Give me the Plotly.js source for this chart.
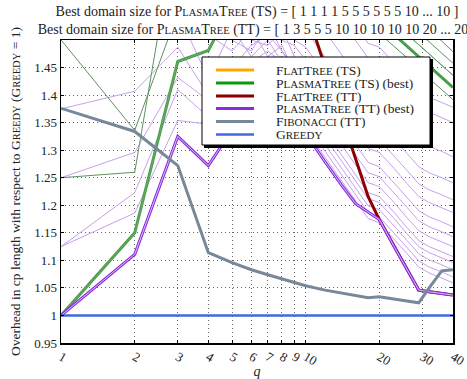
<!DOCTYPE html>
<html>
<head>
<meta charset="utf-8">
<script src="https://cdn.plot.ly/plotly-3.0.1.min.js"></script>
<style>html,body{margin:0;padding:0;background:#fff;}#chart{width:467px;height:379px;}</style>
</head>
<body>
<div id="chart"></div>
<script>
// q values (x axis, log scale)
const Q = [1,2,3,4,5,6,7,8,9,10,12,14,16,18,20,23,26,29,32,36,40];
const xTicks = [1,2,3,4,5,6,7,8,9,10,20,30,40];
const yTicks = [0.95,1,1.05,1.1,1.15,1.2,1.25,1.3,1.35,1.4,1.45];
const yTickText = ['0.95','1','1.05','1.1','1.15','1.2','1.25','1.3','1.35','1.4','1.45'];

// main series
const flatTS   = [2.0,1.95,1.9,1.87,1.85,1.83,1.81,1.80,1.79,1.78,1.76,1.74,1.72,1.70,1.69,1.67,1.65,1.63,1.61,1.59,1.57];
const plasmaTSbest = [1.0,1.15,1.461,1.481,1.563,1.60,1.62,1.63,1.64,1.64,1.63,1.60,1.574,1.552,1.534,1.510,1.489,1.470,1.452,1.432,1.414];
const flatTT   = [2.0,1.9,1.82,1.76,1.71,1.67,1.63,1.60,1.58,1.558,1.452,1.363,1.287,1.216,1.174,1.125,1.083,1.046,1.043,1.040,1.037];
const plasmaTTbest = [1.0,1.111,1.325,1.272,1.337,1.38,1.40,1.40,1.38,1.33,1.279,1.237,1.203,1.187,1.174,1.125,1.083,1.046,1.043,1.040,1.037];
const fibTT    = [1.376,1.334,1.272,1.114,1.096,1.083,1.074,1.066,1.059,1.054,1.046,1.041,1.037,1.032,1.034,1.030,1.026,1.023,1.050,1.081,1.083];
const greedy   = [1,1,1,1,1,1,1,1,1,1,1,1,1,1,1,1,1,1,1,1,1];

// PlasmaTree (TT) for other domain sizes (thin)
const ttP1  = [1.125,1.186,1.354,1.347,1.36,1.38,1.40,1.39,1.37,1.336,1.287,1.245,1.208,1.176,1.168,1.139,1.112,1.088,1.077,1.068,1.059];
const ttP2  = [1.125,1.223,1.41,1.36,1.40,1.43,1.45,1.44,1.40,1.347,1.298,1.256,1.219,1.187,1.179,1.150,1.123,1.099,1.088,1.079,1.070];
const ttP3  = [1.25,1.296,1.432,1.39,1.44,1.46,1.48,1.46,1.42,1.359,1.310,1.268,1.232,1.199,1.192,1.163,1.136,1.112,1.101,1.092,1.083];
const ttP4  = [1.375,1.407,1.487,1.40,1.45,1.49,1.51,1.48,1.44,1.372,1.323,1.281,1.245,1.212,1.205,1.176,1.148,1.125,1.114,1.105,1.096];
const ttP5  = [1.625,1.64,1.55,1.43,1.52,1.47,1.50,1.46,1.42,1.383,1.334,1.292,1.256,1.223,1.216,1.187,1.159,1.136,1.125,1.116,1.107];
const ttP6  = [1.75,1.70,1.60,1.51,1.48,1.52,1.47,1.49,1.44,1.401,1.352,1.310,1.274,1.241,1.234,1.205,1.177,1.154,1.143,1.134,1.125];
const ttP7  = [1.875,1.78,1.65,1.54,1.50,1.48,1.53,1.48,1.45,1.419,1.370,1.328,1.292,1.259,1.252,1.223,1.196,1.172,1.161,1.152,1.143];
const ttP8  = [2.0,1.85,1.70,1.57,1.53,1.50,1.49,1.52,1.47,1.438,1.388,1.347,1.310,1.278,1.270,1.241,1.214,1.190,1.179,1.170,1.161];
const ttP9  = [2.125,1.92,1.75,1.60,1.55,1.53,1.51,1.50,1.49,1.463,1.414,1.372,1.336,1.303,1.296,1.267,1.239,1.216,1.205,1.196,1.187];
const ttP10 = [2.25,2.0,1.80,1.63,1.58,1.55,1.53,1.51,1.50,1.487,1.438,1.396,1.359,1.327,1.319,1.290,1.263,1.239,1.228,1.219,1.210];
const ttP11 = [2.375,2.1,1.85,1.66,1.61,1.58,1.56,1.54,1.53,1.518,1.469,1.427,1.390,1.358,1.350,1.321,1.294,1.270,1.259,1.250,1.241];
const ttP12 = [2.5,2.2,1.9,1.70,1.64,1.61,1.59,1.58,1.57,1.565,1.516,1.474,1.438,1.405,1.398,1.369,1.341,1.318,1.307,1.298,1.288];
const ttP13 = [2.625,2.3,1.95,1.74,1.68,1.65,1.63,1.62,1.62,1.627,1.578,1.536,1.500,1.467,1.459,1.430,1.403,1.379,1.369,1.359,1.350];
const ttP14 = [2.75,2.4,2.0,1.78,1.72,1.69,1.67,1.66,1.66,1.654,1.605,1.563,1.527,1.494,1.487,1.458,1.430,1.407,1.396,1.387,1.378];

// PlasmaTree (TS) for other domain sizes (thin)
const tsA = [1.5,1.336,1.55,1.62,1.66,1.68,1.70,1.71,1.72,1.72,1.70,1.67,1.640,1.618,1.600,1.576,1.554,1.536,1.518,1.498,1.479];
const tsB = [1.25,1.26,1.72,1.75,1.77,1.78,1.79,1.79,1.78,1.76,1.72,1.66,1.618,1.596,1.578,1.554,1.532,1.514,1.496,1.476,1.458];
const tsC = [1.0,1.15,1.461,1.481,1.56,1.62,1.66,1.69,1.71,1.72,1.70,1.65,1.596,1.574,1.556,1.532,1.510,1.492,1.474,1.454,1.436];
const tsD = [1.75,1.70,1.80,1.82,1.83,1.84,1.84,1.83,1.82,1.80,1.75,1.68,1.552,1.530,1.512,1.489,1.467,1.449,1.430,1.410,1.392];

const FONT = "Liberation Serif";
function sc(w, s) { return w[0] + '<span style="font-size:' + s + 'px">' + w.slice(1).toUpperCase() + '</span>'; }

const names = {
  flatTS: sc('Flat',11)+sc('Tree',11)+' (TS)',
  plasmaTS: sc('Plasma',11)+sc('Tree',11)+' (TS) (best)',
  flatTT: sc('Flat',11)+sc('Tree',11)+' (TT)',
  plasmaTT: sc('Plasma',11)+sc('Tree',11)+' (TT) (best)',
  fib: sc('Fibonacci',11)+' (TT)',
  greedy: sc('Greedy',11)
};
const legendColors = ['#ffa500','#0a9a0a','#8b0000','#8a2be2','#778899','#4169e1'];
const legendNames = [names.flatTS, names.plasmaTS, names.flatTT, names.plasmaTT, names.fib, names.greedy];

const thinTT = [ttP1,ttP2,ttP3,ttP4,ttP5,ttP6,ttP7,ttP8,ttP9,ttP10,ttP11,ttP12,ttP13,ttP14];
const thinTS = [tsA,tsB,tsC,tsD];

const traces = [];
thinTT.forEach(ys => traces.push({x:Q, y:ys, mode:'lines', showlegend:false, hoverinfo:'skip',
  line:{color:'#c7a0ec', width:1}}));
thinTS.forEach(ys => traces.push({x:Q, y:ys, mode:'lines', showlegend:false, hoverinfo:'skip',
  line:{color:'#5f9260', width:1}}));

traces.push({x:Q, y:flatTS, mode:'lines', name:names.flatTS, line:{color:'#ffa500', width:3}});
traces.push({x:Q, y:plasmaTSbest, mode:'lines', name:names.plasmaTS, line:{color:'#4a9e4a', width:3}});
traces.push({x:Q, y:tsC, mode:'lines', showlegend:false, hoverinfo:'skip', line:{color:'#6aa96a', width:1}});
traces.push({x:Q, y:flatTT, mode:'lines', name:names.flatTT, line:{color:'#8b0000', width:3}});
traces.push({x:Q, y:plasmaTTbest, mode:'lines', name:names.plasmaTT, line:{color:'#8a2be2', width:3}});
traces.push({x:Q, y:plasmaTTbest, mode:'lines', showlegend:false, hoverinfo:'skip', line:{color:'#d9bff5', width:1}});
traces.push({x:Q, y:fibTT, mode:'lines', name:names.fib, line:{color:'#778899', width:3}});
traces.push({x:Q, y:greedy, mode:'lines', name:names.greedy, line:{color:'#4169e1', width:2.5}});

const L = 61, R = 453, T = 40, B = 343;
const px = v => (v - L) / (R - L);
const py = v => (B - v) / (B - T);

const shapes = [
  {type:'rect', xref:'paper', yref:'paper', x0:px(204), x1:px(433), y0:py(148), y1:py(59),
   fillcolor:'#000', line:{width:0}, layer:'above'},
  {type:'rect', xref:'paper', yref:'paper', x0:px(202), x1:px(430), y0:py(145), y1:py(57),
   fillcolor:'#fff', line:{color:'#000', width:1}, layer:'above'}
];
const annotations = [];
const rowY = [70, 83, 96, 108.5, 121.5, 134.5];
legendNames.forEach((nm, i) => {
  shapes.push({type:'line', xref:'paper', yref:'paper', x0:px(216), x1:px(254), y0:py(rowY[i]), y1:py(rowY[i]),
    line:{color:legendColors[i], width: i === 5 ? 2.5 : 3}, layer:'above'});
  annotations.push({xref:'paper', yref:'paper', x:px(274), y:py(rowY[i]), xanchor:'left', yanchor:'middle',
    text:nm, showarrow:false, height:13, font:{family:FONT, size:13.5, color:'#222'}});
});

const layout = {
  width:467, height:379,
  margin:{l:61, r:14, t:40, b:36, pad:0},
  paper_bgcolor:'#fff', plot_bgcolor:'#fff',
  font:{family:FONT, size:13, color:'#222'},
  title:{
    text:'Best domain size for ' + sc('Plasma',10.5) + sc('Tree',10.5) + ' (TS) = [ 1 1 1 1 5 5 5 5 5 5 10 ... 10 ]<br>' +
         'Best domain size for ' + sc('Plasma',10.5) + sc('Tree',10.5) + ' (TT) = [ 1 3 5 5 5 10 10 10 10 10 20 ... 20 ]',
    font:{family:FONT, size:14, color:'#222'},
    x:0.5, xref:'paper', xanchor:'center', y:1 - 16/379, yref:'container', yanchor:'middle'
  },
  xaxis:{
    type:'log', range:[-0.0005, Math.log10(40) + 0.0005],
    tickvals:xTicks, ticktext:xTicks.map(String),
    ticks:'inside', ticklen:3, tickcolor:'#000', tickwidth:1,
    showline:true, linecolor:'#000', linewidth:1.5, mirror:'allticks',
    showgrid:true, gridcolor:'#666', griddash:'1px,3px', gridwidth:1,
    zeroline:false, automargin:false,
    tickfont:{family:FONT, size:13, color:'#222'},
    title:{text:'<i>q</i>', font:{family:FONT, size:14, color:'#222'}, standoff:5}
  },
  yaxis:{
    range:[0.95, 1.5],
    tickvals:yTicks, ticktext:yTickText,
    ticks:'inside', ticklen:3, tickcolor:'#000', tickwidth:1,
    showline:true, linecolor:'#000', linewidth:1.5, mirror:'allticks',
    showgrid:true, gridcolor:'#666', griddash:'1px,3px', gridwidth:1,
    zeroline:false, automargin:false,
    tickfont:{family:FONT, size:13, color:'#222'},
    title:{text:'Overhead in cp length with respect to ' + sc('Greedy',10.5) + ' (' + sc('Greedy',10.5) + ' = 1)',
           font:{family:FONT, size:13.5, color:'#222'}, standoff:10}
  },
  shapes:shapes,
  annotations:annotations,
  showlegend:false
};

Plotly.newPlot('chart', traces, layout, {displayModeBar:false, staticPlot:true});
</script>
</body>
</html>
